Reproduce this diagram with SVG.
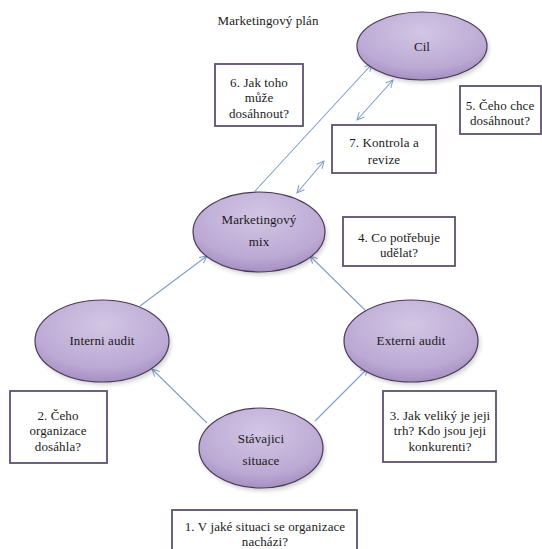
<svg xmlns="http://www.w3.org/2000/svg" width="542" height="549" viewBox="0 0 542 549">
<style>
text{font-family:'Liberation Serif',serif;font-size:13px;letter-spacing:0.1px;fill:#1a1a1a;text-anchor:middle}
.n ellipse.e{fill:url(#g);stroke:#4a3c58;stroke-width:1.2}
.n ellipse.s{fill:#000;opacity:0.18;filter:url(#b)}
.box rect{fill:#fff;stroke:#5e5070;stroke-width:1.8}
.c line{stroke:#7d9fc9;stroke-width:1.1;fill:none}
</style>
<defs>
<radialGradient id="g" cx="0.5" cy="0.3" r="0.75">
<stop offset="0" stop-color="#d2c6e4"/>
<stop offset="0.7" stop-color="#bca9d4"/>
<stop offset="1" stop-color="#9f88bd"/>
</radialGradient>
<filter id="b" x="-20%" y="-20%" width="140%" height="140%"><feGaussianBlur stdDeviation="2"/></filter>
<marker id="a" viewBox="0 0 10 10" refX="9" refY="5" markerWidth="9" markerHeight="9" orient="auto-start-reverse" markerUnits="userSpaceOnUse">
<path d="M1,1 L9,5 L1,9" fill="none" stroke="#7d9fc9" stroke-width="1.1"/>
</marker>
</defs>
<rect width="542" height="549" fill="#fff"/>
<text x="268" y="25">Marketingový plán</text>

<g class="c">
<line x1="207" y1="423" x2="152" y2="369" marker-end="url(#a)"/>
<line x1="315" y1="421" x2="368" y2="368" marker-end="url(#a)"/>
<line x1="140" y1="306" x2="207" y2="256" marker-end="url(#a)"/>
<line x1="367" y1="312" x2="310" y2="256" marker-end="url(#a)"/>
<line x1="255" y1="191" x2="372" y2="64" marker-end="url(#a)"/>
<line x1="357" y1="120" x2="393" y2="80" marker-start="url(#a)" marker-end="url(#a)"/>
<line x1="297" y1="193" x2="324" y2="161" marker-start="url(#a)" marker-end="url(#a)"/>
</g>

<g id="cil" class="n">
<ellipse class="s" cx="424" cy="49" rx="65" ry="34"/>
<ellipse class="e" cx="422" cy="46" rx="65" ry="34"/>
<text x="422" y="51">Cil</text>
</g>
<g id="mix" class="n">
<ellipse class="s" cx="261" cy="235" rx="66" ry="40"/>
<ellipse class="e" cx="259" cy="232" rx="66" ry="40"/>
<text x="259" y="224">Marketingový</text>
<text x="259" y="246">mix</text>
</g>
<g id="interni" class="n">
<ellipse class="s" cx="104" cy="344" rx="67" ry="41"/>
<ellipse class="e" cx="102" cy="341" rx="67" ry="41"/>
<text x="102" y="345">Interni audit</text>
</g>
<g id="externi" class="n">
<ellipse class="s" cx="413" cy="344" rx="67" ry="41"/>
<ellipse class="e" cx="411" cy="341" rx="67" ry="41"/>
<text x="411" y="345">Externi audit</text>
</g>
<g id="stavajici" class="n">
<ellipse class="s" cx="263" cy="451" rx="62" ry="40"/>
<ellipse class="e" cx="261" cy="448" rx="62" ry="40"/>
<text x="261" y="443">Stávajici</text>
<text x="261" y="465">situace</text>
</g>

<g id="q6" class="box">
<rect x="215" y="64" width="88" height="62"/>
<text x="259" y="87">6. Jak toho</text>
<text x="259" y="102">může</text>
<text x="259" y="118">dosáhnout?</text>
</g>
<g id="q7" class="box">
<rect x="332" y="125" width="104" height="48"/>
<text x="384" y="147">7. Kontrola a</text>
<text x="384" y="164">revize</text>
</g>
<g id="q5" class="box">
<rect x="460" y="86" width="81" height="48"/>
<text x="500" y="110">5. Čeho chce</text>
<text x="500" y="125">dosáhnout?</text>
</g>
<g id="q4" class="box">
<rect x="343" y="217" width="112" height="49"/>
<text x="399" y="242">4. Co potřebuje</text>
<text x="399" y="257">udělat?</text>
</g>
<g id="q2" class="box">
<rect x="10" y="391" width="97" height="72"/>
<text x="58" y="420">2. Čeho</text>
<text x="58" y="435">organizace</text>
<text x="58" y="451">dosáhla?</text>
</g>
<g id="q3" class="box">
<rect x="383" y="391" width="113" height="71"/>
<text x="440" y="420">3. Jak veliký je jeji</text>
<text x="440" y="435">trh? Kdo jsou jeji</text>
<text x="440" y="451">konkurenti?</text>
</g>
<g id="q1" class="box">
<rect x="172" y="510" width="185" height="45"/>
<text x="265" y="531">1. V jaké situaci se organizace</text>
<text x="265" y="546">nacházi?</text>
</g>
</svg>
